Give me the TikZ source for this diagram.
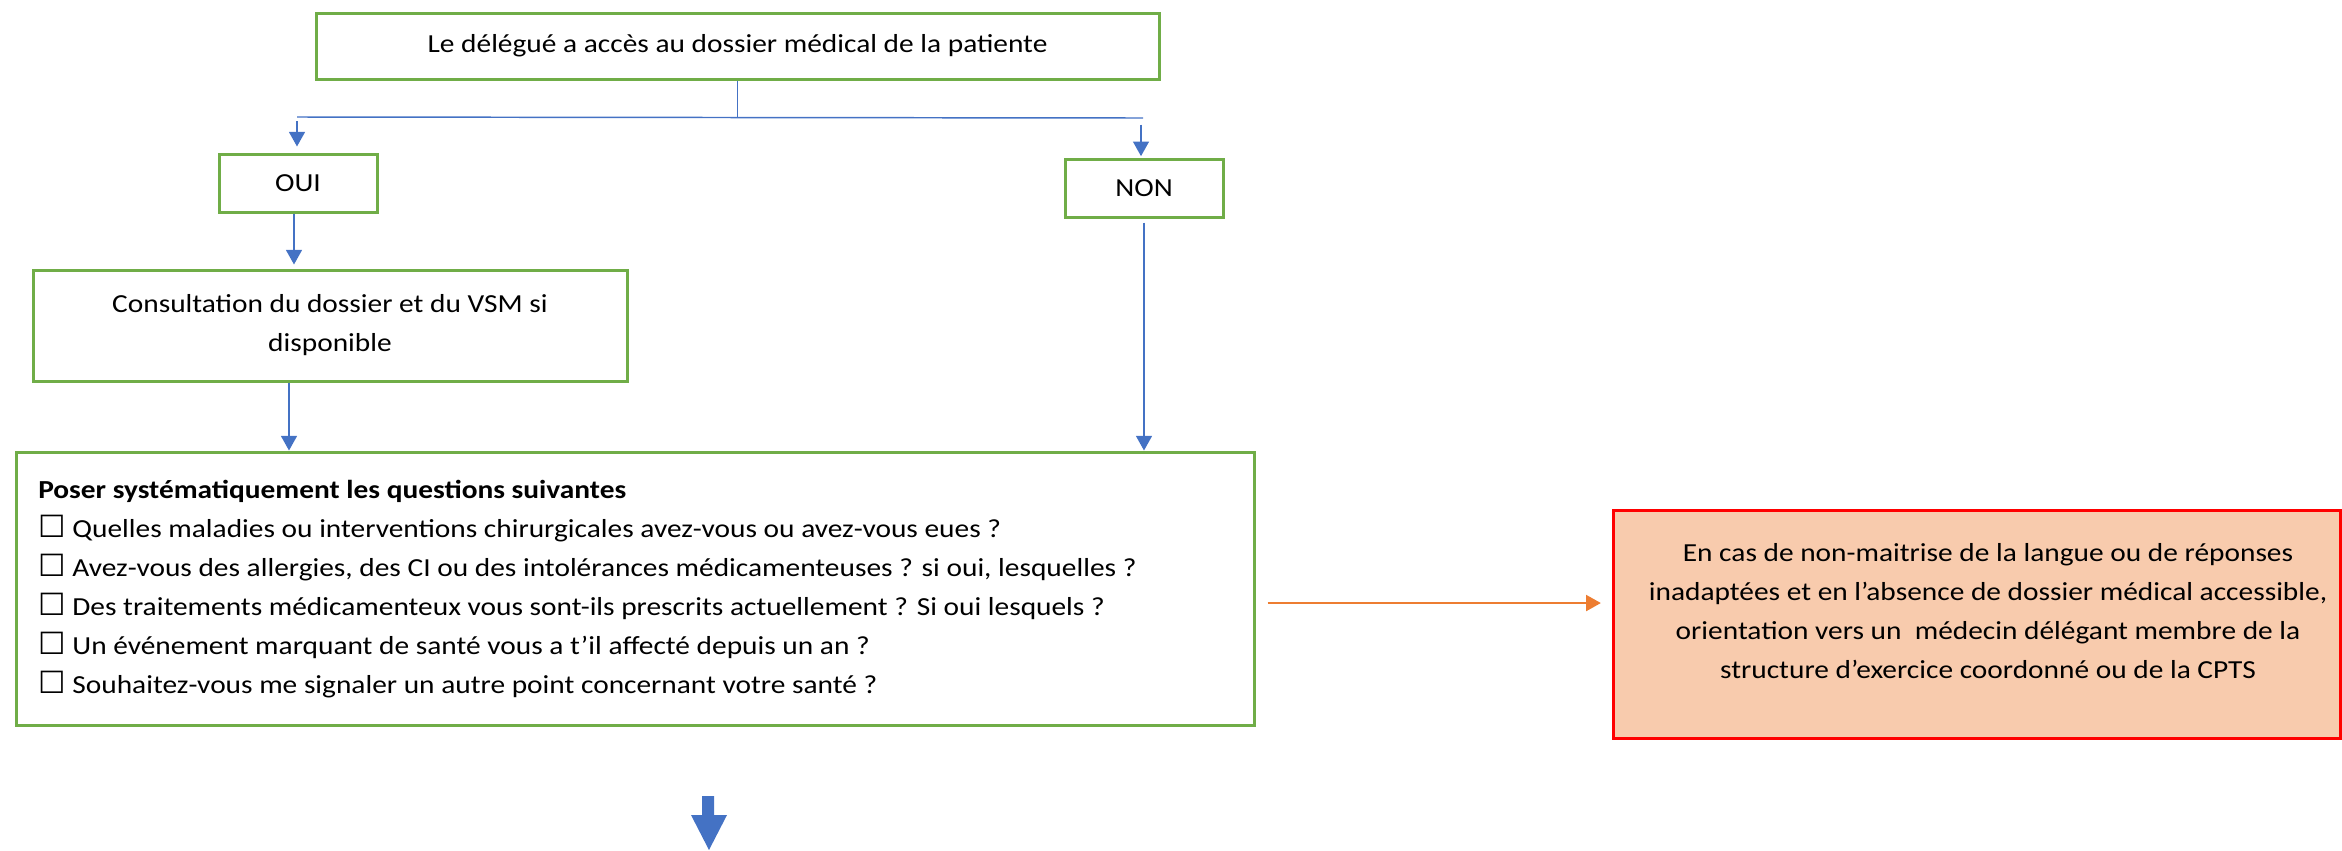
\documentclass[tikz,border=0pt]{standalone}
\usepackage{fontspec}
\setmainfont{Carlito}[FakeStretch=1.13]
\newfontfamily\symfont{DejaVu Sans}
\usetikzlibrary{arrows.meta}
\definecolor{boxgreen}{HTML}{70AD47}
\definecolor{linkblue}{HTML}{4472C4}
\definecolor{alertred}{HTML}{FF0000}
\definecolor{alertfill}{HTML}{F8CBAD}
\definecolor{linkorange}{HTML}{ED7D31}
\newcommand{\chkbox}{{\symfont\fontsize{23pt}{23pt}\selectfont ☐}}
\tikzset{
  greenbox/.style={draw=boxgreen, line width=2.25pt, fill=white, inner sep=0pt, align=center},
  redbox/.style={draw=alertred, line width=2.25pt, fill=alertfill, inner sep=0pt},
  link/.style={draw=linkblue, line width=1.1pt},
  linkarrow/.style={link, -{Triangle[length=11pt,width=12pt]}},
  orangearrow/.style={draw=linkorange, line width=1.3pt, -{Triangle[length=11pt,width=12pt]}},
  txt/.style={font=\fontsize{19.5pt}{29.25pt}\selectfont},
}
\begin{document}
\begin{tikzpicture}[x=0.75pt,y=-0.75pt]
\useasboundingbox (0,0) rectangle (2342,850);

\node[greenbox, txt, minimum width=632.25pt, minimum height=49.5pt] (top) at (737.5,46)
  {Le délégué a accès au dossier médical de la patiente};
\node[greenbox, txt, minimum width=118.5pt, minimum height=43.5pt] (oui) at (298,183) {OUI};
\node[greenbox, txt, minimum width=118.5pt, minimum height=43.5pt] (non) at (1144,188) {NON};
\node[greenbox, txt, minimum width=445.5pt, minimum height=83.25pt] (consult) at (330,325.5)
  {Consultation du dossier et du VSM si\\disponible};
\node[greenbox, minimum width=928.5pt, minimum height=204.75pt] (questions) at (635,588.5) {};
\node[txt, anchor=base west, align=left, inner sep=0pt] (qtext) at (38,693)
  {\textbf{Poser systématiquement les questions suivantes}\\
   \chkbox\ Quelles maladies ou interventions chirurgicales avez-vous ou avez-vous eues ?\\
   \chkbox\ Avez-vous des allergies, des CI ou des intolérances médicamenteuses ? si oui, lesquelles ?\\
   \chkbox\ Des traitements médicamenteux vous sont-ils prescrits actuellement ? Si oui lesquels ?\\
   \chkbox\ Un événement marquant de santé vous a t’il affecté depuis un an ?\\
   \chkbox\ Souhaitez-vous me signaler un autre point concernant votre santé ?};

\node[redbox, minimum width=545.25pt, minimum height=171pt] (red) at (1976.5,624) {};
\node[txt, align=center, inner sep=0pt, anchor=base] (redtext) at (1988,678)
  {En cas de non-maitrise de la langue ou de réponses\\
   inadaptées et en l’absence de dossier médical accessible,\\
   orientation vers un\ \ médecin délégant membre de la\\
   structure d’exercice coordonné ou de la CPTS};

% connectors
\coordinate (split) at (737.5,118);
\coordinate (splitL) at (297,117);
\coordinate (splitR) at (1143,118);
\draw[link] (top.south) -- (split);
\draw[link] (splitL) -- (splitR);
\draw[linkarrow, shorten <=3pt, shorten >=4.5pt] (splitL) -- (splitL |- oui.north);
\draw[linkarrow, shorten <=5pt, shorten >=1pt] ([xshift=-1.5pt]splitR) -- ([xshift=-1.5pt]splitR |- non.north);
\draw[linkarrow, shorten >=3pt] ([xshift=-3pt]oui.south) -- ([xshift=-3pt]oui.south |- consult.north);
\draw[linkarrow] ([xshift=-30.75pt]consult.south) -- ([xshift=-30.75pt]consult.south |- questions.north);
\draw[linkarrow, shorten <=3pt] (non.south) -- (non.south |- questions.north);
\draw[orangearrow, shorten <=9pt, shorten >=8pt] ([yshift=-10.9pt]questions.east) -- ([yshift=-10.9pt]questions.east -| red.west);

% block arrow below
\fill[linkblue] (702,796) -- (714,796) -- (714,815) -- (727,815) -- (709,850) -- (691,815) -- (702,815) -- cycle;
\end{tikzpicture}
\end{document}
